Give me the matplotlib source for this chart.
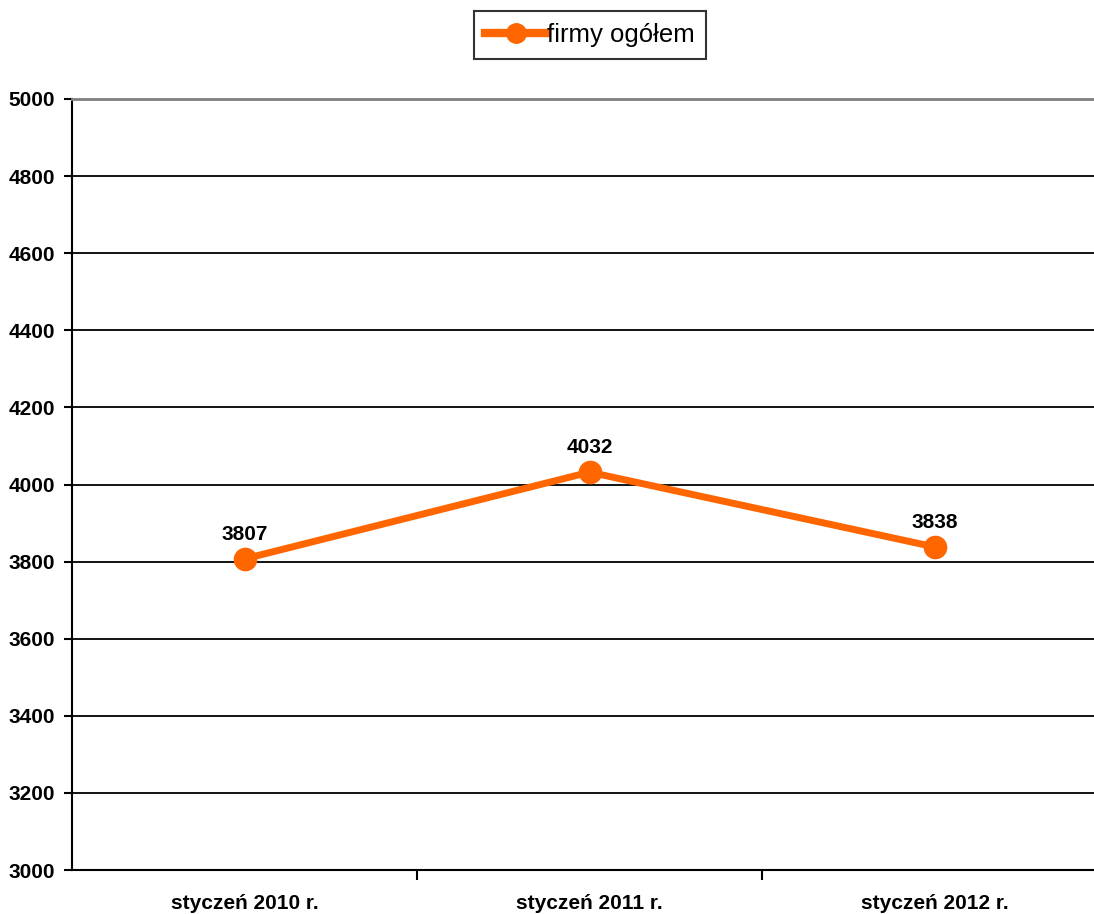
import matplotlib.pyplot as plt
from matplotlib.ticker import FixedLocator

plt.rcParams["font.family"] = ["Liberation Sans", "DejaVu Sans"]

categories = ["styczeń 2010 r.", "styczeń 2011 r.", "styczeń 2012 r."]
values = [3807, 4032, 3838]
series_name = "firmy ogółem"
yticks = list(range(3000, 5001, 200))

fig = plt.figure(figsize=(10.94, 9.14), dpi=100)
W, H = 1094, 914
ax = fig.add_axes([72 / W, 1 - 870 / H, 1035 / W, 771 / H])

x = list(range(len(categories)))
ax.plot(x, values, color="#FF6600", linewidth=5, marker="o", markersize=16,
        label=series_name, zorder=3, clip_on=False)
for xi, v in zip(x, values):
    ax.annotate(str(v), (xi, v), xytext=(0, 11), textcoords="offset points",
                ha="center", va="bottom", fontsize=15, fontweight="bold")

ax.set_xlim(-0.5, len(categories) - 0.5)
ax.set_ylim(3000, 5000)
ax.set_yticks(yticks)
ax.set_yticklabels([str(t) for t in yticks], fontsize=15, fontweight="bold")
ax.set_xticks(x)
ax.set_xticklabels(categories, fontsize=15, fontweight="bold")
ax.tick_params(axis="x", length=0, pad=17)
ax.xaxis.set_minor_locator(FixedLocator([0.5, 1.5]))
ax.tick_params(axis="x", which="minor", length=7, width=1.5, color="black")
ax.tick_params(axis="y", length=6, width=1.5, color="black", pad=6)

ax.grid(axis="y", color="black", linewidth=1.3)
ax.set_axisbelow(True)
ax.spines["right"].set_visible(False)
ax.spines["top"].set_color("#808080")
ax.spines["top"].set_linewidth(2)
ax.spines["left"].set_linewidth(1.5)
ax.spines["bottom"].set_linewidth(1.5)

leg = fig.legend(loc="center", bbox_to_anchor=(590 / W, 1 - 35 / H), fontsize=18.5,
                 frameon=True, fancybox=False, edgecolor="black", handlelength=2.4,
                 handletextpad=0.0, borderpad=0.45, borderaxespad=0)
leg.get_frame().set_linewidth(1.5)
for h in leg.legend_handles:
    h.set_markersize(14)
    h.set_linewidth(6)

fig.savefig("out.png", dpi=100)
